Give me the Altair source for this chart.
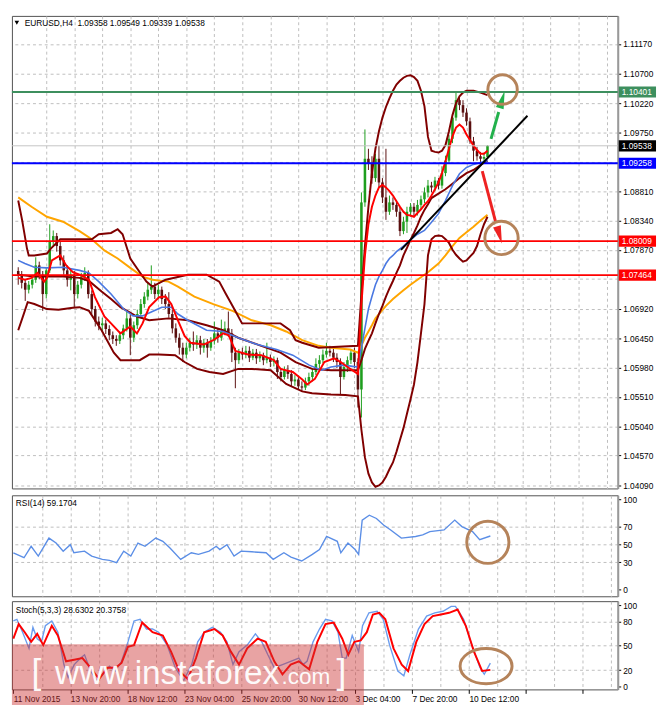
import json
import altair as alt
import pandas as pd

# ---------------- data ----------------
HEADER = "EURUSD,H4\u00a0\u00a01.09358 1.09549 1.09339 1.09538"
RSI_TITLE = "RSI(14) 59.1704"
STO_TITLE = "Stoch(5,3,3) 28.6302 20.3758"
DATE_LABELS = ["11 Nov 2015", "13 Nov 20:00", "18 Nov 12:00", "23 Nov 04:00",
               "25 Nov 20:00", "30 Nov 12:00", "3 Dec 04:00", "7 Dec 20:00", "10 Dec 12:00"]
LABEL_STEP = 16   # bars between time labels
GRID_STEP = 8     # bars between vertical grid lines

OPEN = [1.0753, 1.0747, 1.0734, 1.0723, 1.0731, 1.0739, 1.0762, 1.0747, 1.0716, 1.0754,
        1.0801, 1.0809, 1.0793, 1.0770, 1.0754, 1.0739, 1.0747, 1.0716, 1.0731, 1.0744,
        1.0750, 1.0716, 1.0692, 1.0672, 1.0666, 1.0669, 1.0660, 1.0650, 1.0644, 1.0641,
        1.0650, 1.0661, 1.0677, 1.0646, 1.0666, 1.0684, 1.0700, 1.0712, 1.0723, 1.0728,
        1.0716, 1.0723, 1.0708, 1.0700, 1.0684, 1.0661, 1.0646, 1.0630, 1.0619, 1.0630,
        1.0638, 1.0635, 1.0642, 1.0630, 1.0638, 1.0630, 1.0641, 1.0653, 1.0646, 1.0656,
        1.0661, 1.0653, 1.0622, 1.0610, 1.0622, 1.0619, 1.0625, 1.0614, 1.0622, 1.0613,
        1.0618, 1.0610, 1.0614, 1.0607, 1.0610, 1.0591, 1.0583, 1.0594, 1.0588, 1.0576,
        1.0579, 1.0568, 1.0566, 1.0576, 1.0583, 1.0591, 1.0604, 1.0610, 1.0619, 1.0625,
        1.0622, 1.0614, 1.0607, 1.0583, 1.0599, 1.0610, 1.0622, 1.0607, 1.0563, 1.0863,
        1.0933, 1.0926, 1.0902, 1.0933, 1.0895, 1.0871, 1.0848, 1.0863, 1.0859, 1.0848,
        1.0817, 1.0832, 1.0848, 1.0856, 1.0848, 1.0859, 1.0868, 1.0879, 1.0890, 1.0887,
        1.0898, 1.0890, 1.0910, 1.0930, 1.0965, 1.0999, 1.1027, 1.1019, 1.1007, 1.0993,
        1.0961, 1.0946, 1.0937, 1.0933, 1.09358]
CLOSE = [1.0747, 1.0734, 1.0723, 1.0731, 1.0739, 1.0762, 1.0747, 1.0716, 1.0754, 1.0801,
         1.0809, 1.0793, 1.0770, 1.0754, 1.0739, 1.0747, 1.0716, 1.0731, 1.0744, 1.0750,
         1.0716, 1.0692, 1.0672, 1.0666, 1.0669, 1.0660, 1.0650, 1.0644, 1.0641, 1.0650,
         1.0661, 1.0677, 1.0646, 1.0666, 1.0684, 1.0700, 1.0712, 1.0723, 1.0728, 1.0716,
         1.0723, 1.0708, 1.0700, 1.0684, 1.0661, 1.0646, 1.0630, 1.0619, 1.0630, 1.0638,
         1.0635, 1.0642, 1.0630, 1.0638, 1.0630, 1.0641, 1.0653, 1.0646, 1.0656, 1.0661,
         1.0653, 1.0622, 1.0610, 1.0622, 1.0619, 1.0625, 1.0614, 1.0622, 1.0613, 1.0618,
         1.0610, 1.0614, 1.0607, 1.0610, 1.0591, 1.0583, 1.0594, 1.0588, 1.0576, 1.0579,
         1.0568, 1.0566, 1.0576, 1.0583, 1.0591, 1.0604, 1.0610, 1.0619, 1.0625, 1.0622,
         1.0614, 1.0607, 1.0583, 1.0599, 1.0610, 1.0622, 1.0607, 1.0563, 1.0863, 1.0933,
         1.0926, 1.0902, 1.0933, 1.0895, 1.0871, 1.0848, 1.0863, 1.0859, 1.0848, 1.0817,
         1.0832, 1.0848, 1.0856, 1.0848, 1.0859, 1.0868, 1.0879, 1.0890, 1.0887, 1.0898,
         1.0890, 1.0910, 1.0930, 1.0965, 1.0999, 1.1027, 1.1019, 1.1007, 1.0993, 1.0961,
         1.0946, 1.0937, 1.0933, 1.09358, 1.09538]
HIGH = [1.0759, 1.0753, 1.0740, 1.0737, 1.0747, 1.0775, 1.0768, 1.0753, 1.0759, 1.0828,
        1.0818, 1.0814, 1.0800, 1.0778, 1.0762, 1.0754, 1.0753, 1.0737, 1.0750, 1.0759,
        1.0754, 1.0722, 1.0697, 1.0680, 1.0678, 1.0675, 1.0666, 1.0656, 1.0650, 1.0656,
        1.0667, 1.0689, 1.0683, 1.0672, 1.0691, 1.0708, 1.0719, 1.0734, 1.0762, 1.0734,
        1.0731, 1.0728, 1.0716, 1.0719, 1.0691, 1.0669, 1.0653, 1.0638, 1.0638, 1.0646,
        1.0656, 1.0650, 1.0649, 1.0644, 1.0644, 1.0647, 1.0672, 1.0661, 1.0675, 1.0672,
        1.0688, 1.0660, 1.0630, 1.0628, 1.0630, 1.0633, 1.0632, 1.0628, 1.0628, 1.0624,
        1.0622, 1.0638, 1.0619, 1.0616, 1.0614, 1.0597, 1.0600, 1.0602, 1.0594, 1.0586,
        1.0585, 1.0576, 1.0582, 1.0590, 1.0597, 1.0613, 1.0618, 1.0627, 1.0638, 1.0633,
        1.0628, 1.0621, 1.0613, 1.0607, 1.0616, 1.0628, 1.0630, 1.0613, 1.0879, 1.0980,
        1.0949, 1.0937, 1.0941, 1.0954, 1.0902, 1.0949, 1.0874, 1.0871, 1.0865, 1.0856,
        1.0840, 1.0856, 1.0862, 1.0862, 1.0867, 1.0874, 1.0887, 1.0899, 1.0896, 1.0904,
        1.0902, 1.0921, 1.0938, 1.0971, 1.1005, 1.1039, 1.1033, 1.1027, 1.1014, 1.0999,
        1.0968, 1.0952, 1.0944, 1.0943, 1.09549]
LOW = [1.0731, 1.0725, 1.0705, 1.0717, 1.0725, 1.0734, 1.0740, 1.0689, 1.0709, 1.0750,
       1.0793, 1.0784, 1.0762, 1.0747, 1.0728, 1.0722, 1.0695, 1.0709, 1.0725, 1.0737,
       1.0709, 1.0684, 1.0664, 1.0658, 1.0656, 1.0652, 1.0642, 1.0636, 1.0633, 1.0636,
       1.0644, 1.0656, 1.0618, 1.0639, 1.0660, 1.0680, 1.0694, 1.0706, 1.0716, 1.0708,
       1.0709, 1.0700, 1.0692, 1.0678, 1.0653, 1.0638, 1.0619, 1.0607, 1.0613, 1.0624,
       1.0625, 1.0628, 1.0619, 1.0622, 1.0614, 1.0625, 1.0635, 1.0638, 1.0641, 1.0650,
       1.0647, 1.0607, 1.0565, 1.0604, 1.0611, 1.0613, 1.0607, 1.0610, 1.0604, 1.0607,
       1.0602, 1.0605, 1.0599, 1.0600, 1.0580, 1.0576, 1.0579, 1.0580, 1.0568, 1.0569,
       1.0563, 1.0560, 1.0562, 1.0569, 1.0576, 1.0586, 1.0597, 1.0605, 1.0614, 1.0616,
       1.0607, 1.0597, 1.0555, 1.0579, 1.0591, 1.0604, 1.0597, 1.0534, 1.0518, 1.0856,
       1.0915, 1.0893, 1.0896, 1.0887, 1.0862, 1.0835, 1.0843, 1.0851, 1.0840, 1.0809,
       1.0812, 1.0814, 1.0840, 1.0840, 1.0842, 1.0852, 1.0862, 1.0871, 1.0879, 1.0881,
       1.0884, 1.0885, 1.0905, 1.0926, 1.0958, 1.0994, 1.1011, 1.1000, 1.0986, 1.0957,
       1.0929, 1.0930, 1.0926, 1.0929, 1.09339]

# Bollinger bands (upper / middle / lower)
BB_UP_BAR = [0, 1.1, 2.5, 3, 4.6, 8.2, 9.3, 12, 17.5, 21, 23, 26.5, 28.4, 29.8, 32, 34.7, 36.6, 38.3,
             42.1, 48.4, 53.8, 57.4, 59.3, 62, 63.9, 68.3, 74.9, 77.6, 79.2, 81.1, 85.8, 97,
             98, 99, 100, 101, 102, 103, 104, 105, 106, 107, 108, 109, 110, 111, 112, 113, 114,
             115, 116, 117, 118, 119, 120, 121, 122, 123, 124, 125, 126, 127, 128, 130, 132, 134]
BB_UP_VAL = [1.0866, 1.0835, 1.0789, 1.0778, 1.0778, 1.0781, 1.0789, 1.0804, 1.0804, 1.0804,
             1.0812, 1.0814, 1.0820, 1.0812, 1.0773, 1.0751, 1.0736, 1.0728, 1.0739, 1.0747,
             1.0747, 1.0736, 1.0716, 1.0689, 1.0669, 1.0669, 1.0669, 1.0658, 1.0642, 1.0638,
             1.0630, 1.0633,
             1.0716, 1.0793, 1.0856, 1.0910, 1.0949, 1.0977, 1.0999, 1.1016, 1.1030, 1.1042,
             1.1052, 1.1058, 1.1063, 1.1066, 1.1067, 1.1064, 1.1058, 1.1042, 1.1017, 1.0968,
             1.0946, 1.0944, 1.0943, 1.0946, 1.0955, 1.0977, 1.1003, 1.1022, 1.1033, 1.1039,
             1.1042, 1.1042, 1.1039, 1.1035]
BB_MID_BAR = [0, 4.6, 12.8, 17.5, 20.2, 23.8, 26.5, 29.2, 33.9, 37.4, 42.9, 48.4, 53.8, 58.5,
              62.8, 69.4, 74.9, 79.2, 83.9, 89.3, 97,
              98, 99, 100, 101, 102, 103, 104, 105, 106, 107, 108, 109, 110, 111, 112, 113, 114,
              115, 116, 117, 118, 120, 122, 124, 126, 128, 130, 132, 134]
BB_MID_VAL = [1.0747, 1.0744, 1.0744, 1.0742, 1.0737, 1.0720, 1.0708, 1.0695, 1.0680, 1.0674,
              1.0677, 1.0674, 1.0666, 1.0658, 1.0646, 1.0633, 1.0622, 1.0607, 1.0596, 1.0594,
              1.0594,
              1.0610, 1.0628, 1.0641, 1.0653, 1.0669, 1.0684, 1.0697, 1.0712, 1.0725, 1.0737,
              1.0750, 1.0762, 1.0778, 1.0790, 1.0803, 1.0814, 1.0826, 1.0840, 1.0851, 1.0860,
              1.0870, 1.0877, 1.0884, 1.0893, 1.0902, 1.0910, 1.0915, 1.0923, 1.0930]
BB_LO_BAR = [0, 1.4, 2.7, 4.6, 8.2, 11.5, 15.6, 17.5, 20.2, 23.8, 27.3, 29.2, 34.7, 37.4, 40.2,
             44.8, 47.5, 51.1, 54.6, 58.5, 62.8, 66.7, 72.1, 76.5, 81.1, 83.9, 89.3, 93.4, 97,
             98, 99, 100, 101, 102, 103, 104, 105, 106, 107, 108, 109, 110, 111, 112, 113, 114,
             115, 116, 117, 118, 119, 120, 121, 122, 123, 124, 125, 126, 127, 128, 129, 130,
             131, 132, 133, 134]
BB_LO_VAL = [1.0658, 1.0681, 1.0703, 1.0700, 1.0692, 1.0691, 1.0694, 1.0695, 1.0689, 1.0658,
             1.0622, 1.0610, 1.0610, 1.0619, 1.0619, 1.0618, 1.0607, 1.0596, 1.0591, 1.0588,
             1.0596, 1.0596, 1.0594, 1.0572, 1.0560, 1.0557, 1.0555, 1.0554, 1.0552,
             1.0498, 1.0454, 1.0428, 1.0414, 1.0407, 1.0409, 1.0414, 1.0423, 1.0435, 1.0446,
             1.0463, 1.0482, 1.0501, 1.0524, 1.0547, 1.0571, 1.0607, 1.0653, 1.0700, 1.0778,
             1.0804, 1.0809, 1.0810, 1.0809, 1.0804, 1.0798, 1.0787, 1.0779, 1.0773, 1.0768,
             1.0770, 1.0776, 1.0782, 1.0793, 1.0812, 1.0828, 1.0840]
# moving averages
BLUE_BAR = [0, 1.9, 4.6, 8.2, 12.8, 17.5, 20.2, 23.0, 26.5, 30.1, 32.8, 35.5, 38.3, 41.0, 43.7,
            45.6, 48.4, 53.8, 58.5, 62.8, 68.3, 73.8, 78.4, 83.1, 86.6, 89.3, 92.9, 97,
            98, 99, 100, 101, 102, 103, 104, 105, 106, 107, 108, 110, 112, 114, 116, 118, 120,
            122, 124, 126, 128, 130, 132, 134]
BLUE_VAL = [1.0770, 1.0765, 1.0759, 1.0758, 1.0759, 1.0754, 1.0750, 1.0736, 1.0716, 1.0692,
            1.0681, 1.0681, 1.0688, 1.0695, 1.0695, 1.0684, 1.0674, 1.0658, 1.0656, 1.0646,
            1.0635, 1.0627, 1.0618, 1.0602, 1.0594, 1.0599, 1.0602, 1.0599,
            1.0630, 1.0661, 1.0692, 1.0712, 1.0731, 1.0744, 1.0754, 1.0765, 1.0773, 1.0778,
            1.0784, 1.0793, 1.0803, 1.0812, 1.0818, 1.0831, 1.0845, 1.0866, 1.0890, 1.0909,
            1.0919, 1.0924, 1.0927, 1.0930]
ORANGE_BAR = [0, 3.8, 8.2, 12.8, 17.5, 21.0, 24.6, 28.4, 32.0, 35.5, 38.3, 42.9, 45.6, 50.3,
              55.7, 61.2, 66.7, 72.1, 76.5, 81.1, 85.8, 89.3, 94.8, 97,
              98, 99, 100, 101, 102, 103, 105, 107, 110, 112, 114, 117, 120, 122, 124, 126,
              128, 130, 132, 134]
ORANGE_VAL = [1.0871, 1.0856, 1.0840, 1.0832, 1.0817, 1.0804, 1.0786, 1.0773, 1.0758, 1.0744,
              1.0739, 1.0736, 1.0728, 1.0712, 1.0700, 1.0689, 1.0674, 1.0666, 1.0656, 1.0642,
              1.0633, 1.0630, 1.0627, 1.0622,
              1.0633, 1.0646, 1.0656, 1.0666, 1.0677, 1.0684, 1.0697, 1.0708, 1.0722, 1.0731,
              1.0739, 1.0751, 1.0765, 1.0778, 1.0793, 1.0806, 1.0815, 1.0824, 1.0834, 1.0843]
RED_BAR = [0, 1.9, 3.8, 5.5, 7.4, 8.2, 9.6, 12.0, 13.7, 15.6, 17.5, 20.2, 21.9, 24.6, 26.5,
           29.2, 32.0, 33.9, 35.5, 37.4, 40.2, 42.1, 43.7, 45.6, 47.5, 49.2, 53.0, 55.7, 58.5,
           60.1, 62.0, 65.6, 69.4, 73.0, 74.9, 78.4, 81.1, 82.5, 84.7, 87.4, 90.2, 92.1, 94.0, 97,
           98, 99, 100, 101, 102, 103, 104, 105, 106, 107, 108, 109, 110, 111, 112, 113, 114,
           115, 116, 117, 118, 119, 120, 121, 122, 123, 124, 125, 126, 127, 128, 129, 130, 131,
           132, 133, 134]
RED_VAL = [1.0742, 1.0739, 1.0742, 1.0750, 1.0736, 1.0742, 1.0770, 1.0778, 1.0762, 1.0751,
           1.0747, 1.0739, 1.0711, 1.0680, 1.0669, 1.0653, 1.0664, 1.0653, 1.0669, 1.0695,
           1.0711, 1.0712, 1.0700, 1.0674, 1.0649, 1.0638, 1.0635, 1.0642, 1.0653, 1.0650,
           1.0625, 1.0619, 1.0618, 1.0610, 1.0596, 1.0591, 1.0579, 1.0571, 1.0580, 1.0607,
           1.0613, 1.0607, 1.0599, 1.0588,
           1.0700, 1.0778, 1.0828, 1.0856, 1.0874, 1.0887, 1.0891, 1.0887, 1.0881, 1.0874,
           1.0865, 1.0856, 1.0848, 1.0843, 1.0842, 1.0840, 1.0846, 1.0852, 1.0859, 1.0865,
           1.0874, 1.0884, 1.0895, 1.0910, 1.0929, 1.0949, 1.0969, 1.0983, 1.0988, 1.0983,
           1.0972, 1.0963, 1.0954, 1.0947, 1.0941, 1.0941, 1.0946]

PRICE_TICKS = [1.11170, 1.10700, 1.10220, 1.09750, 1.09280, 1.08810, 1.08340, 1.07870,
               1.07400, 1.06920, 1.06450, 1.05980, 1.05510, 1.05040, 1.04570, 1.04090]
LEVELS = [1.10401, 1.09538, 1.09258, 1.08009, 1.07464]
LEVEL_LABELS = ["1.10401", "1.09538", "1.09258", "1.08009", "1.07464"]
LEVEL_COLORS = ["#3d8f5e", "#c4c4c4", "#0000ff", "#ff0000", "#ff0000"]
LEVEL_WIDTHS = [2, 1, 2, 2, 2]
TAG_COLORS = ["#3d8f5e", "#000000", "#0000ff", "#ff0000", "#ff0000"]

TREND_BAR = [109.3, 145.4]
TREND_VAL = [1.0787, 1.1002]
UP_ARROW_BAR = [135.0, 137.2]
UP_ARROW_VAL = [1.0965, 1.1008]
UP_HEAD = (138.2, 1.1028)
DN_ARROW_BAR = [132.5, 136.3]
DN_ARROW_VAL = [1.0913, 1.0832]
DN_HEAD = (137.4, 1.0811)
CIRCLES_MAIN_BAR = [138.3, 138.0]
CIRCLES_MAIN_VAL = [1.1044, 1.0806]
CIRCLES_MAIN_SIZE = [900, 1156]

RSI_BAR = [0, 3, 5, 7, 10, 12, 14, 16, 17, 20, 22, 25, 27, 29, 31, 33, 35, 37, 40, 42,
           44, 47, 50, 52, 55, 57, 58, 60, 62, 64, 67, 71, 73, 76, 78, 81, 84, 86, 88, 91,
           92, 94, 96, 97, 98, 100, 102, 104, 106, 109, 113, 115, 117, 121, 124, 126, 129, 131, 134]
RSI_VAL = [40.6, 35.1, 47.8, 36.9, 56.9, 51.4, 42.4, 49.6, 40.6, 42.4,
           36.9, 33.3, 32.2, 29.7, 42.4, 36.9, 51.4, 47.8, 56.9, 53.3,
           46.0, 33.3, 40.6, 38.8, 42.4, 47.8, 44.2, 49.6, 36.9, 42.4,
           41.7, 40.6, 33.3, 40.6, 35.9, 31.5, 38.8, 44.2, 58.7, 53.3,
           40.6, 51.4, 44.2, 38.8, 76.8, 82.2, 78.6, 71.4, 65.9, 56.9,
           58.7, 60.5, 64.1, 65.9, 76.8, 69.6, 64.1, 55.1, 59.2]
RSI_CIRCLE = (133.3, 52.2)

K_BAR = [0, 1, 2.6, 4.4, 5.5, 6.7, 7.9, 9, 10.8, 12.5, 14.2, 15.4, 17.1, 18.9, 20, 21.7, 23.5,
         25.2, 27, 28.7, 30.4, 32.2, 33.9, 35.6, 37.4, 39.1, 40.8, 43.2, 45.5, 47.8, 50.1, 51.8,
         53.6, 55.9, 58.2, 60, 61.7, 63.4, 65.7, 68, 69.8, 71.5, 73.3, 75.6, 77.9, 80.2, 81.4,
         82.5, 84.2, 86, 87.7, 89.5, 91.2, 92.4, 93.5, 95.2, 97, 98.1, 99.9, 102.2, 103.9, 105.7,
         108, 109.7, 111.4, 113.8, 116.1, 118.4, 120.7, 123, 124.2, 126.5, 128.8, 131.1, 132.3, 134]
K_VAL = [80.5, 82.5, 66.7, 46.8, 72.6, 58.7, 54.8, 74.6, 80.5, 66.7,
         26.9, 11.1, 26.9, 34.9, 38.9, 19, 7.1, 15, 25, 19,
         30.9, 54.8, 80.5, 82.5, 70.6, 70.6, 66.7, 50.8, 23, 7.1,
         26.9, 54.8, 66.7, 72.6, 66.7, 54.8, 26.9, 42.8, 50.8, 64.7,
         54.8, 38.9, 23, 26.9, 30.9, 34.9, 26.9, 30.9, 54.8, 70.6,
         82.5, 80.5, 66.7, 34.9, 34.9, 62.7, 42.8, 74.6, 90.5, 92.4,
         82.5, 50.8, 19, 13, 38.9, 70.6, 86.5, 90.5, 92.4, 98.4,
         98.4, 82.5, 50.8, 23, 15, 28.6]
D_BAR = [0, 1.5, 3.2, 5, 6.7, 8.4, 10.8, 12.5, 14.8, 17.1, 19.4, 21.7, 24.1, 26.4, 28.7, 30.4,
         32.2, 33.9, 36.2, 39.1, 42, 44.3, 46.6, 49, 51.3, 53.6, 56.5, 58.8, 61.1, 63.4, 65.7,
         68.6, 70.9, 73.3, 75.6, 77.9, 80.2, 83.1, 85.4, 87.7, 90, 92.4, 94.1, 95.8, 97.6, 99.3,
         101, 102.8, 104.5, 106.8, 109.1, 110.9, 113.2, 115.5, 117.8, 120.1, 122.4, 124.8, 127.1,
         129.4, 131.7, 134]
D_VAL = [58.7, 76.6, 66.7, 54.8, 64.7, 50.8, 74.6, 62.7, 30.9, 32.9,
         34.9, 23, 9.1, 23, 23, 28.9, 48.8, 50.8, 78.6, 66.7,
         62.7, 42.8, 19, 9.1, 34.9, 66.7, 70.6, 62.7, 42.8, 26.9,
         46.8, 58.7, 54.8, 30.9, 15, 26.9, 30.9, 21, 54.8, 76.6,
         78.6, 58.7, 38.9, 54.8, 56.7, 66.7, 88.5, 90.5, 82.5, 46.8,
         26.9, 19, 54.8, 76.6, 86.5, 88.5, 90.5, 94.5, 74.6, 42.8,
         19, 20.4]
STO_ELLIPSE = (132.8, 25.0)

# ---------------- layout / style ----------------
FONT = "Liberation Sans"
FS = 8.5
W = 618
HM, HR, HS = 482, 103, 90
XDOM = [-0.4, 169.8]
PDOM = [1.04043, 1.11621]
RDOM = [-7.6, 104.3]
SDOM = [-3.6, 104.8]
GRID = "#bdbdbd"
BULL, BEAR = "#1e9e1e", "#5a0f0f"
MAROON, BLUE, ORANGE, RED = "#800000", "#4a78e2", "#ffa500", "#ff0000"
BROWN = "#b5835a"
ARROW_GREEN, ARROW_RED = "#22b14c", "#ee2222"
RECT_PATH = "M-1,-0.3L1,-0.3L1,0.3L-1,0.3Z"
ELLIPSE_PATH = "M-1,0A1,0.68,0,1,0,1,0A1,0.68,0,1,0,-1,0Z"
HEAD_UP_PATH = "M0,-1L0.45,1L-0.45,1Z"
HEAD_DN_PATH = "M0,1L0.45,-1L-0.45,-1Z"

grid_vals = list(range(0, 169, GRID_STEP))
grid_op = {"condition": {"test": "datum.value === 0", "value": 0}, "value": 1}

axis_x_grid = alt.Axis(values=grid_vals, labels=False, ticks=False, domain=False, grid=True,
                       gridColor=GRID, gridDash=[3, 3], gridOpacity=grid_op, title=None)
label_expr = (f"(datum.value % {LABEL_STEP} === 0 && datum.value <= {LABEL_STEP * (len(DATE_LABELS) - 1)})"
              f" ? {json.dumps(DATE_LABELS)}[datum.value / {LABEL_STEP}] : ''")
axis_x_bottom = alt.Axis(values=grid_vals, labelExpr=label_expr, labelAlign="left", labelFlush=False,
                         labelOverlap=False, labelFont=FONT, labelFontSize=FS, labelColor="#000",
                         labelPadding=1, tickSize=4, tickColor="#000",
                         tickOpacity={"condition": {"test": f"datum.value % {LABEL_STEP} === 0", "value": 1},
                                      "value": 0},
                         domain=False, grid=True, gridColor=GRID, gridDash=[3, 3],
                         gridOpacity=grid_op, title=None)


def X(axis, field="bar"):
    return alt.X(f"{field}:Q", scale=alt.Scale(domain=XDOM, nice=False, zero=False), axis=axis, title=None)


def yaxis(values, fmt=None, hide_grid=None, label_expr=None):
    kw = dict(orient="right", values=values, labelFont=FONT, labelFontSize=FS, labelColor="#000",
              labelPadding=2, labelOverlap=False, tickSize=3, tickColor="#000", domainColor="#999999",
              domainWidth=2, grid=True, gridColor=GRID, gridDash=[3, 3], title=None)
    if fmt:
        kw["format"] = fmt
    if label_expr:
        kw["labelExpr"] = label_expr
    if hide_grid:
        kw["gridOpacity"] = {"condition": {"test": hide_grid, "value": 0}, "value": 1}
    return alt.Axis(**kw)


# tick labels that sit right under a price tag are left blank (the tag covers them)
covered = " || ".join(f"abs(datum.value - {v}) < 0.0008" for v in LEVELS)
price_axis = yaxis(PRICE_TICKS, fmt=".5f",
                   label_expr=f"({covered}) ? '' : format(datum.value, '.5f')")


def PY(field):
    return alt.Y(f"{field}:Q", scale=alt.Scale(domain=PDOM, nice=False, zero=False), axis=price_axis, title=None)


one = pd.DataFrame({"a": [0]})

# ---------------- main price panel ----------------
candles = pd.DataFrame({"bar": list(range(len(CLOSE))), "o": OPEN, "h": HIGH, "l": LOW, "c": CLOSE})
candle_color = alt.condition("datum.c >= datum.o", alt.value(BULL), alt.value(BEAR))

wicks = alt.Chart(candles).mark_rule(strokeWidth=1).encode(
    x=X(axis_x_grid), y=PY("l"), y2="h:Q", color=candle_color)
bodies = alt.Chart(candles).mark_bar(width=2.6).encode(
    x=X(axis_x_grid), y=PY("o"), y2="c:Q", color=candle_color)


def series(bars, vals, color, width, dash=None):
    df = pd.DataFrame({"bar": bars, "v": vals})
    kw = dict(color=color, strokeWidth=width, clip=True)
    if dash:
        kw["strokeDash"] = dash
    return alt.Chart(df).mark_line(**kw).encode(x=X(axis_x_grid), y=PY("v"))


ind_layers = [
    series(ORANGE_BAR, ORANGE_VAL, ORANGE, 2),
    series(BB_UP_BAR, BB_UP_VAL, MAROON, 2),
    series(BB_MID_BAR, BB_MID_VAL, MAROON, 2),
    series(BB_LO_BAR, BB_LO_VAL, MAROON, 2),
    series(BLUE_BAR, BLUE_VAL, BLUE, 1.6),
    series(RED_BAR, RED_VAL, RED, 2),
]

levels = pd.DataFrame({"p": LEVELS, "lab": LEVEL_LABELS, "col": LEVEL_COLORS,
                       "tag": TAG_COLORS, "w": LEVEL_WIDTHS})
level_rules = alt.Chart(levels).mark_rule().encode(
    y=PY("p"), color=alt.Color("col:N", scale=None), strokeWidth=alt.StrokeWidth("w:Q", scale=None))
tags = alt.Chart(levels).mark_point(shape=RECT_PATH, filled=True, size=1444, opacity=1).encode(
    x=alt.value(W + 20), y=PY("p"), color=alt.Color("tag:N", scale=None))
tag_text = alt.Chart(levels).mark_text(align="left", baseline="middle", font=FONT, fontSize=FS,
                                        color="white").encode(
    x=alt.value(W + 4), y=PY("p"), text="lab:N")

trend = series(TREND_BAR, TREND_VAL, "#000000", 2)
up_arrow = series(UP_ARROW_BAR, UP_ARROW_VAL, ARROW_GREEN, 3)
dn_arrow = series(DN_ARROW_BAR, DN_ARROW_VAL, ARROW_RED, 3)
heads = pd.DataFrame({"bar": [UP_HEAD[0], DN_HEAD[0]], "v": [UP_HEAD[1], DN_HEAD[1]],
                      "shape": [HEAD_UP_PATH, HEAD_DN_PATH], "ang": [16, 344],
                      "col": [ARROW_GREEN, ARROW_RED]})
head_marks = alt.Chart(heads).mark_point(filled=True, size=330, opacity=1).encode(
    x=X(axis_x_grid), y=PY("v"), shape=alt.Shape("shape:N", scale=None),
    angle=alt.Angle("ang:Q", scale=None), color=alt.Color("col:N", scale=None))
circ_main = pd.DataFrame({"bar": CIRCLES_MAIN_BAR, "v": CIRCLES_MAIN_VAL, "s": CIRCLES_MAIN_SIZE})
circles = alt.Chart(circ_main).mark_point(shape="circle", filled=False, strokeWidth=3, color=BROWN,
                                          opacity=1).encode(
    x=X(axis_x_grid), y=PY("v"), size=alt.Size("s:Q", scale=None))

hdr_tri = alt.Chart(one).mark_point(shape="triangle-down", filled=True, size=22, color="#000",
                                    opacity=1).encode(x=alt.value(5), y=alt.value(7))
hdr_txt = alt.Chart(pd.DataFrame({"t": [HEADER]})).mark_text(
    align="left", baseline="middle", font=FONT, fontSize=FS, color="#000").encode(
    x=alt.value(13), y=alt.value(7), text="t:N")

main = alt.layer(wicks, bodies, *ind_layers, level_rules, trend, up_arrow, dn_arrow, head_marks,
                 circles, tags, tag_text, hdr_tri, hdr_txt).properties(width=W, height=HM)

# ---------------- RSI panel ----------------
rsi_axis = yaxis([0, 30, 50, 70, 100], hide_grid="datum.value === 0 || datum.value === 100")


def RY(field):
    return alt.Y(f"{field}:Q", scale=alt.Scale(domain=RDOM, nice=False, zero=False), axis=rsi_axis, title=None)


rsi_df = pd.DataFrame({"bar": RSI_BAR, "v": RSI_VAL})
rsi_line = alt.Chart(rsi_df).mark_line(color="#5b8ee6", strokeWidth=1.4).encode(x=X(axis_x_grid), y=RY("v"))
rsi_circ = alt.Chart(pd.DataFrame({"bar": [RSI_CIRCLE[0]], "v": [RSI_CIRCLE[1]]})).mark_point(
    shape="circle", filled=False, strokeWidth=3, color=BROWN, size=1849, opacity=1).encode(
    x=X(axis_x_grid), y=RY("v"))
rsi_title = alt.Chart(pd.DataFrame({"t": [RSI_TITLE]})).mark_text(
    align="left", baseline="middle", font=FONT, fontSize=FS, color="#000").encode(
    x=alt.value(4), y=alt.value(8), text="t:N")
rsi = alt.layer(rsi_line, rsi_circ, rsi_title).properties(width=W, height=HR)

# ---------------- Stochastic panel ----------------
sto_axis = yaxis([0, 20, 50, 80, 100], hide_grid="datum.value === 0 || datum.value === 100")


def SY(field):
    return alt.Y(f"{field}:Q", scale=alt.Scale(domain=SDOM, nice=False, zero=False), axis=sto_axis, title=None)


k_line = alt.Chart(pd.DataFrame({"bar": K_BAR, "v": K_VAL})).mark_line(
    color="#6a9cee", strokeWidth=1.4).encode(x=X(axis_x_bottom), y=SY("v"))
d_line = alt.Chart(pd.DataFrame({"bar": D_BAR, "v": D_VAL})).mark_line(
    color=RED, strokeWidth=2).encode(x=X(axis_x_bottom), y=SY("v"))
sto_ell = alt.Chart(pd.DataFrame({"bar": [STO_ELLIPSE[0]], "v": [STO_ELLIPSE[1]]})).mark_point(
    shape=ELLIPSE_PATH, filled=False, strokeWidth=3, color=BROWN, size=2809, opacity=1).encode(
    x=X(axis_x_bottom), y=SY("v"))
sto_title = alt.Chart(pd.DataFrame({"t": [STO_TITLE]})).mark_text(
    align="left", baseline="middle", font=FONT, fontSize=FS, color="#000").encode(
    x=alt.value(4), y=alt.value(9), text="t:N")

wm_rect = alt.Chart(one).mark_rect(color="#cc3333", opacity=0.45).encode(
    x=alt.value(0), x2=alt.value(359), y=alt.value(44), y2=alt.value(106))
wm_parts = pd.DataFrame({"t": ["[", "www.instaforex", ".com", "]"],
                         "x": [20, 44, 275, 331], "fs": [36, 34, 23, 36]})
wm_text = alt.Chart(wm_parts).mark_text(align="left", baseline="alphabetic", font=FONT,
                                        color="white", opacity=0.95).encode(
    x=alt.X("x:Q", scale=None), y=alt.value(84), text="t:N", size=alt.Size("fs:Q", scale=None))

sto = alt.layer(k_line, d_line, wm_rect, wm_text, sto_ell, sto_title).properties(width=W, height=HS)

chart = alt.vconcat(main, rsi, sto, spacing=3).properties(
    padding=0, background="white"
).configure_view(stroke="#505050", strokeWidth=1).configure_axis(labelFont=FONT)

chart.save("out.html", embed_options={"renderer": "svg", "actions": False})
